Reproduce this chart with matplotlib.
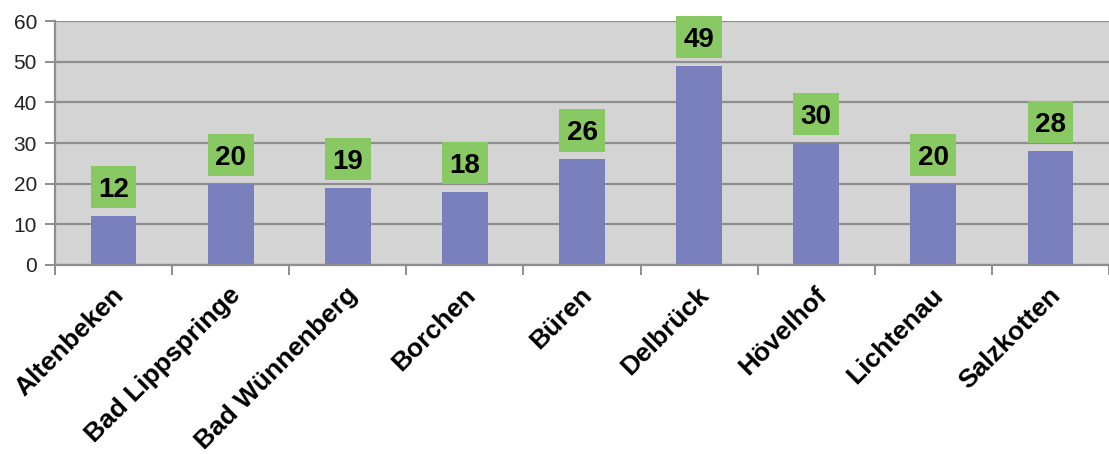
"""Bar chart: counts per municipality (Kreis Paderborn)."""

import matplotlib.pyplot as plt
import matplotlib.transforms as mtransforms
import numpy as np

plt.rcParams["font.family"] = ["Liberation Sans", "DejaVu Sans"]

towns = [
    "Altenbeken",
    "Bad Lippspringe",
    "Bad Wünnenberg",
    "Borchen",
    "Büren",
    "Delbrück",
    "Hövelhof",
    "Lichtenau",
    "Salzkotten",
]
counts = [12, 20, 19, 18, 26, 49, 30, 20, 28]

BAR_COLOR = "#7a80be"
BOX_COLOR = "#88c964"
BG_COLOR = "#d3d4d3"
GRID_COLOR = "#8e8e8e"


def main():
    fig = plt.figure(figsize=(11.09, 4.54), dpi=100)
    ax = fig.add_axes([0.0496, 0.4163, 0.9504, 0.5374])
    ax.set_facecolor(BG_COLOR)

    x = np.arange(len(towns))
    vals = np.array(counts, dtype=float)
    ax.bar(x, vals, width=0.39, color=BAR_COLOR, zorder=3)

    # green label boxes sitting just above each bar
    gap, box_h = 1.9, 10.4
    ax.bar(x, box_h, bottom=vals + gap, width=0.39, color=BOX_COLOR,
           zorder=3, clip_on=False)
    for xi, v in zip(x, counts):
        ax.text(xi, v + gap + box_h / 2, str(v), ha="center", va="center_baseline",
                fontsize=20, fontweight="bold", color="black", zorder=4,
                clip_on=False)

    ax.set_xlim(-0.5, 8.43)
    ax.set_ylim(0, 60)
    ax.set_yticks(range(0, 61, 10))
    ax.yaxis.grid(True, color=GRID_COLOR, linewidth=1.6, zorder=1)
    ax.set_axisbelow(True)

    for side in ("top", "right"):
        ax.spines[side].set_visible(False)
    for side in ("left", "bottom"):
        ax.spines[side].set_color(GRID_COLOR)
        ax.spines[side].set_linewidth(1.6)
        ax.spines[side].set_zorder(5)

    ax.tick_params(axis="y", length=7, width=1.4, color=GRID_COLOR,
                   labelsize=15, labelcolor="#222222", pad=6)

    # tick marks between categories, labels under the bar centres
    ax.set_xticks(np.arange(-0.5, len(towns), 1.0))
    ax.set_xticklabels([])
    ax.tick_params(axis="x", which="major", length=7, width=1.4, color=GRID_COLOR)
    ax.set_xticks(x, minor=True)
    ax.set_xticklabels(towns, minor=True, rotation=45, ha="right",
                       rotation_mode="anchor", fontsize=19, fontweight="bold")
    ax.tick_params(axis="x", which="minor", length=0, pad=13)
    shift = mtransforms.ScaledTranslation(-0.02, 0, fig.dpi_scale_trans)
    for lbl in ax.get_xticklabels(minor=True):
        lbl.set_transform(lbl.get_transform() + shift)

    fig.savefig("out.png", dpi=100)


if __name__ == "__main__":
    main()
